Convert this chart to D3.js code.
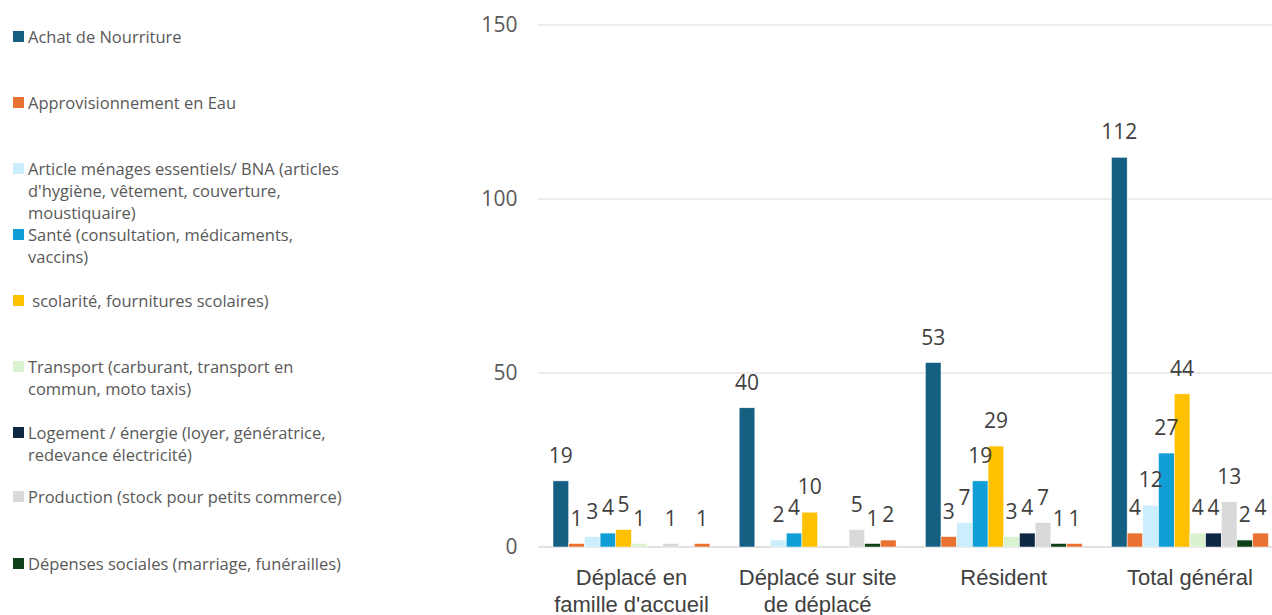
<!DOCTYPE html>
<html>
<head>
<meta charset="utf-8">
<script src="https://cdn.jsdelivr.net/npm/d3@7"></script>
<style>
body { margin: 0; background: #fff; }
svg { display: block; font-family: "Open Sans", "Noto Sans", sans-serif; }
</style>
</head>
<body>
<div id="chart"></div>
<script>
// categories on the x axis
var categories = ["Déplacé en famille d'accueil", "Déplacé sur site de déplacé", "Résident", "Total général"];
// spending types (10th one is cut off in the legend)
var series = [
	"Achat de Nourriture",
	"Approvisionnement en Eau",
	"Article ménages essentiels/ BNA (articles d'hygiène, vêtement, couverture, moustiquaire)",
	"Santé (consultation, médicaments, vaccins)",
	" scolarité, fournitures scolaires)",
	"Transport (carburant, transport en commun, moto taxis)",
	"Logement / énergie (loyer, génératrice, redevance électricité)",
	"Production (stock pour petits commerce)",
	"Dépenses sociales (marriage, funérailles)",
	"Autres"
];
var colors = ["#156082", "#E97132", "#CAEEFB", "#0F9ED5", "#FFC000", "#DAF2D0", "#0E2841", "#D9D9D9", "#0E4019", "#E97132"];
// one array per category, in series order
var famille = [19, 1, 3, 4, 5, 1, 0, 1, 0, 1];
var site = [40, 0, 2, 4, 10, 0, 0, 5, 1, 2];
var resident = [53, 3, 7, 19, 29, 3, 4, 7, 1, 1];
var total = [112, 4, 12, 27, 44, 4, 4, 13, 2, 4];
var yTicks = [0, 50, 100, 150];
var legendCount = 9;

var values = [famille, site, resident, total];
var data = categories.map(function(c, i) {
	return {cat: c, vals: values[i].map(function(v, j) { return {s: j, v: v}; })};
});

var W = 1272, H = 615;
var plotLeft = 538.4, plotRight = 1283, plotTop = 25, plotBottom = 547;

var svg = d3.select("#chart").append("svg")
	.attr("width", W)
	.attr("height", H);

var p = 0.157;
var x0 = d3.scaleBand()
	.domain(categories)
	.range([plotLeft, plotRight])
	.paddingInner(p)
	.paddingOuter(p / 2);
var x1 = d3.scaleBand()
	.domain(d3.range(series.length))
	.range([0, x0.bandwidth()]);
var y = d3.scaleLinear()
	.domain([0, 150])
	.range([plotBottom, plotTop]);

//grid
svg.append("g").selectAll("line")
	.data(yTicks)
	.enter().append("line")
	.attr("x1", plotLeft)
	.attr("x2", W)
	.attr("y1", function(d) { return y(d); })
	.attr("y2", function(d) { return y(d); })
	.attr("stroke", "#D9D9D9")
	.attr("stroke-width", function(d) { return d == 0 ? 1.5 : 1; });

//y axis labels
var yAxis = svg.append("g")
	.attr("transform", "translate(" + plotLeft + ",0)")
	.call(d3.axisLeft(y).tickValues(yTicks).tickSize(0).tickPadding(21));
yAxis.select(".domain").remove();
yAxis.selectAll("text")
	.attr("fill", "#595959")
	.style("font-size", "21px")
	.style("font-family", "'Open Sans', sans-serif");

//bars
var groups = svg.append("g").selectAll("g")
	.data(data)
	.enter().append("g")
	.attr("transform", function(d) { return "translate(" + x0(d.cat) + ",0)"; });

groups.selectAll("rect")
	.data(function(d) { return d.vals.filter(function(e) { return e.v > 0; }); })
	.enter().append("rect")
	.attr("x", function(d) { return x1(d.s); })
	.attr("width", x1.bandwidth())
	.attr("y", function(d) { return y(d.v); })
	.attr("height", function(d) { return plotBottom - y(d.v); })
	.attr("fill", function(d) { return colors[d.s]; })
	.attr("stroke", "#fff")
	.attr("stroke-width", 0.5);

groups.selectAll("text")
	.data(function(d) { return d.vals.filter(function(e) { return e.v > 0; }); })
	.enter().append("text")
	.attr("x", function(d) { return x1(d.s) + x1.bandwidth() / 2; })
	.attr("y", function(d) { return y(d.v) - 18; })
	.attr("text-anchor", "middle")
	.attr("fill", "#404040")
	.style("font-size", "21px")
	.text(function(d) { return d.v; });

//category labels
var xAxis = svg.append("g")
	.attr("transform", "translate(0," + plotBottom + ")")
	.call(d3.axisBottom(x0).tickSize(0).tickPadding(0));
xAxis.select(".domain").remove();
xAxis.selectAll("text").remove();
xAxis.selectAll(".tick").append("text")
	.attr("text-anchor", "middle")
	.attr("fill", "#404040")
	.style("font-size", "22px")
	.each(function(d) { wrap(d3.select(this), d, 175, 38, 27, 0); });

//legend
var legend = svg.append("g");
var legendY = [37, 103, 169, 235, 301, 367, 433, 497, 564];
series.slice(0, legendCount).forEach(function(s, i) {
	var g = legend.append("g");
	g.append("rect")
		.attr("x", 13)
		.attr("y", legendY[i] - 6)
		.attr("width", 11)
		.attr("height", 11)
		.attr("fill", colors[i]);
	var t = g.append("text")
		.attr("fill", "#595959")
		.style("font-size", "16.5px")
		.style("white-space", "pre");
	wrap(t, s, 320, legendY[i] + 5.5, 22, 28);
});

function wrap(t, str, maxW, y0, lh, xx) {
	var words = str.split(" ");
	var lead = "";
	while (words.length && words[0] === "") { words.shift(); lead += " "; }
	var lines = [], line = lead;
	var tmp = t.append("tspan");
	words.forEach(function(w) {
		var test = line === lead ? line + w : line + " " + w;
		tmp.text(test);
		if (tmp.node().getComputedTextLength() > maxW && line !== lead) {
			lines.push(line);
			line = w;
		} else {
			line = test;
		}
	});
	lines.push(line);
	tmp.remove();
	lines.forEach(function(l, k) {
		t.append("tspan")
			.attr("x", xx)
			.attr("y", y0 + k * lh)
			.text(l);
	});
}
</script>
</body>
</html>
